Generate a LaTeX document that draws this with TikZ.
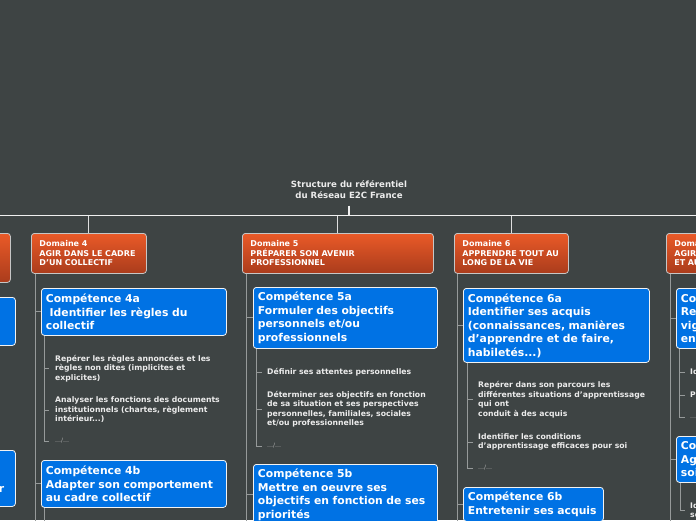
\documentclass[tikz,border=0pt]{standalone}
\usepackage{fontspec}
\setmainfont{DejaVu Sans}
\usepackage{tikz}
\usetikzlibrary{positioning}
\definecolor{bgdark}{RGB}{62,68,68}
\definecolor{domtop}{RGB}{234,90,40}
\definecolor{dombot}{RGB}{170,60,28}
\definecolor{compblue}{RGB}{0,114,228}
\definecolor{treegray}{RGB}{150,154,154}
\definecolor{itemwhite}{RGB}{236,236,236}

\begin{document}
\begin{tikzpicture}[
    x=1pt, y=-1pt,
    dombox/.style={draw=gray!45!white, line width=0.8pt, rounded corners=3pt,
                top color=domtop, bottom color=dombot, anchor=north west,
                minimum height=40pt, inner xsep=8pt, inner ysep=2pt, align=left,
                text=white, font=\bfseries\fontsize{8}{9.5}\selectfont},
    compbox/.style={draw=white!90!gray, line width=0.8pt, rounded corners=3pt,
                fill=compblue, anchor=north west, inner xsep=4.5pt, inner ysep=2pt,
                align=left, text=white, font=\bfseries\fontsize{10.8}{13.5}\selectfont},
    skill/.style={anchor=west, inner sep=0pt, align=left, text=itemwhite,
                font=\bfseries\fontsize{7.7}{9.5}\selectfont},
    ellip/.style={anchor=west, inner sep=0pt, text=gray!60!white,
                font=\fontsize{6}{7}\selectfont},
    title/.style={align=center, text=itemwhite, inner ysep=7pt,
                font=\bfseries\fontsize{8.6}{11}\selectfont},
    spine/.style={draw=white!88!gray, line width=1.8pt},
    drop/.style={draw=white!75!gray, line width=1pt},
    treeline/.style={draw=treegray, line width=0.9pt}
]
    \fill[bgdark] (0,0) rectangle (696,520);
    \useasboundingbox (0,0) rectangle (696,520);

    \node[title] (root) at (349,189.5) {Structure du référentiel\\du Réseau E2C France};
    \coordinate (busL) at (-10,215.5);
    \coordinate (busR) at (706,215.5);
    \draw[spine] (busL) -- (busR);
    \draw[spine] (root.south) -- (root.south |- busL);

    \node[dombox, minimum width=114pt, minimum height=49pt] (dom3) at (-104,233) {};
    \node[dombox, text width=99pt] (dom4) at (31,233) {Domaine 4\\AGIR DANS LE CADRE\\D’UN COLLECTIF};
    \node[dombox, text width=175pt] (dom5) at (242,233) {Domaine 5\\PRÉPARER SON AVENIR\\PROFESSIONNEL};
    \node[dombox, text width=98pt] (dom6) at (454,233) {Domaine 6\\APPRENDRE TOUT AU\\LONG DE LA VIE};
    \node[dombox, text width=100pt] (dom7) at (666,233) {Doma\\AGIR\\ET AU};

    \draw[drop] (dom4.north |- busL) -- (dom4.north);
    \draw[drop] (dom5.north |- busL) -- (dom5.north);
    \draw[drop] (dom6.north |- busL) -- (dom6.north);

    \node[compbox, minimum width=195pt, minimum height=48pt] (c3a) at (-180,297) {};
    \node[compbox, minimum width=195pt, minimum height=56pt] (c3b) at (-180,450) {};
    \node[compbox, anchor=base east, inner sep=0pt, draw=none, fill=none] (c3btxt) at (4.5,492) {r};

    \node[compbox, text width=176pt, minimum height=47pt] (c4a) at (41,288) {Compétence 4a\\\hspace*{0.35em}Identifier les règles du\\collectif};
    \node[compbox, text width=176pt, minimum height=47pt] (c4b) at (41,460) {Compétence 4b\\Adapter son comportement\\au cadre collectif};
    \node[compbox, text width=175pt, minimum height=61pt] (c5a) at (253,287) {Compétence 5a\\Formuler des objectifs\\personnels et/ou\\professionnels};
    \node[compbox, text width=175pt, minimum height=61pt] (c5b) at (253,464) {Compétence 5b\\Mettre en oeuvre ses\\objectifs en fonction de ses\\priorités};
    \node[compbox, text width=177pt, minimum height=74pt] (c6a) at (463,288) {Compétence 6a\\Identifier ses acquis\\(connaissances, manières\\d’apprendre et de faire,\\habiletés...)};
    \node[compbox, text width=131pt, minimum height=34pt] (c6b) at (463,487) {Compétence 6b\\Entretenir ses acquis};
    \node[compbox, text width=100pt, minimum height=60pt] (c7a) at (676,288) {Co\\Re\\vig\\en};
    \node[compbox, text width=100pt, minimum height=46pt] (c7b) at (676,436) {Co\\Ag\\soi};

    \draw[treeline] ([xshift=4pt]dom4.south west) |- (c4a.west);
    \draw[treeline] ([xshift=4pt]dom4.south west) |- (c4b.west);
    \draw[treeline] ([xshift=4pt]dom4.south west) -- ++(0,260);
    \draw[treeline] ([xshift=4.5pt]dom5.south west) |- (c5a.west);
    \draw[treeline] ([xshift=4.5pt]dom5.south west) |- (c5b.west);
    \draw[treeline] ([xshift=4.5pt]dom5.south west) -- ++(0,260);
    \draw[treeline] ([xshift=3.7pt]dom6.south west) |- (c6a.west);
    \draw[treeline] ([xshift=3.7pt]dom6.south west) |- (c6b.west);
    \draw[treeline] ([xshift=3.7pt]dom6.south west) -- ++(0,260);
    \draw[treeline] ([xshift=4pt]dom7.south west) |- (c7a.west);
    \draw[treeline] ([xshift=4pt]dom7.south west) |- (c7b.west);
    \draw[treeline] ([xshift=4pt]dom7.south west) -- ++(0,260);

    \node[skill] (r4a1) at (55,368.3) {Repérer les règles annoncées et les\\règles non dites (implicites et\\explicites)};
    \node[skill] (r4a2) at (55,410) {Analyser les fonctions des documents\\institutionnels (chartes, règlement\\intérieur...)};
    \node[ellip] (r4a3) at (55,441) {…/…};
    \foreach \n in {r4a1,r4a2,r4a3}
        \draw[treeline] ([xshift=3.5pt]c4a.south west) |- ([xshift=-6pt]\n.west);
    \draw[treeline] ([xshift=3.5pt]c4b.south west) -- ++(0,30);

    \node[skill] (r5a1) at (267,372) {Définir ses attentes personnelles};
    \node[skill] (r5a2) at (267,409) {Déterminer ses objectifs en fonction\\de sa situation et ses perspectives\\personnelles, familiales, sociales\\et/ou professionnelles};
    \node[ellip] (r5a3) at (267,446) {…/…};
    \foreach \n in {r5a1,r5a2,r5a3}
        \draw[treeline] ([xshift=3.7pt]c5a.south west) |- ([xshift=-5pt]\n.west);

    \node[skill] (r6a1) at (478,399.5) {Repérer dans son parcours les\\différentes situations d’apprentissage\\qui ont\\conduit à des acquis};
    \node[skill] (r6a2) at (478,442) {Identifier les conditions\\d’apprentissage efficaces pour soi};
    \node[ellip] (r6a3) at (478,468) {…/…};
    \foreach \n in {r6a1,r6a2,r6a3}
        \draw[treeline] ([xshift=4.5pt]c6a.south west) |- ([xshift=-5pt]\n.west);

    \node[skill] (r7a1) at (690,372) {Id};
    \node[skill] (r7a2) at (690,395) {P};
    \node[ellip] (r7a3) at (690,417) {…/…};
    \foreach \n in {r7a1,r7a2,r7a3}
        \draw[treeline] ([xshift=3.5pt]c7a.south west) |- ([xshift=-5pt]\n.west);
    \node[skill] (r7b1) at (690,510) {Id\\so};
    \draw[treeline] ([xshift=4pt]c7b.south west) |- ([xshift=-5pt]r7b1.west);
\end{tikzpicture}
\end{document}
